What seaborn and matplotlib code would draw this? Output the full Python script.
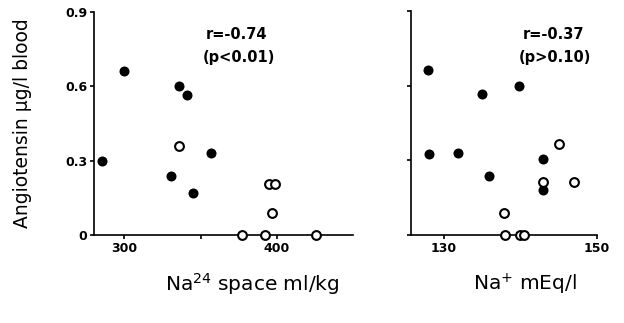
import matplotlib
matplotlib.use("Agg")
import matplotlib.pyplot as plt
import seaborn as sns

# Left panel: Na24 space (ml/kg) vs angiotensin (ug/l blood)
space_filled_x = [285.5, 299.5, 335.5, 340.8, 356.6, 330.7, 345.0]
space_filled_y = [0.30, 0.66, 0.60, 0.567, 0.33, 0.24, 0.17]
space_open_x = [335.5, 395.0, 398.7, 397.0, 377.0, 392.5, 425.6]
space_open_y = [0.36, 0.206, 0.206, 0.087, 0.0, 0.0, 0.0]

# Right panel: plasma Na+ (mEq/l) vs angiotensin
na_filled_x = [127.9, 128.0, 131.9, 135.0, 135.9, 139.8, 142.9, 142.9]
na_filled_y = [0.664, 0.327, 0.33, 0.567, 0.238, 0.60, 0.305, 0.18]
na_open_x = [137.9, 138.0, 139.9, 140.5, 145.0, 142.9, 147.0]
na_open_y = [0.09, 0.0, 0.0, 0.0, 0.365, 0.213, 0.214]

y_ticks = [0, 0.3, 0.6, 0.9]
y_ticklabels = ["0", "0.3", "0.6", "0.9"]

sns.set_theme(style="ticks", rc={"axes.edgecolor": "black", "xtick.color": "black",
                                 "ytick.color": "black", "text.color": "black",
                                 "axes.labelcolor": "black"})
plt.rcParams["font.family"] = ["DejaVu Sans"]

fig = plt.figure(figsize=(6.24, 3.23), dpi=100)
ax1 = fig.add_axes([0.1506, 0.2724, 0.4151, 0.6904])
ax2 = fig.add_axes([0.6587, 0.2724, 0.2980, 0.6935])

dot = dict(s=52, color="black", edgecolor="black", linewidth=0, clip_on=False, zorder=3)
ring = dict(s=40, color="white", edgecolor="black", linewidth=1.5, clip_on=False, zorder=3)

sns.scatterplot(x=space_filled_x, y=space_filled_y, ax=ax1, **dot)
sns.scatterplot(x=space_open_x, y=space_open_y, ax=ax1, **ring)
sns.scatterplot(x=na_filled_x, y=na_filled_y, ax=ax2, **dot)
sns.scatterplot(x=na_open_x, y=na_open_y, ax=ax2, **ring)

ax1.set_xlim(280, 450)
ax1.set_xticks([300, 350, 400])
ax1.set_xticklabels(["300", "", "400"])
ax2.set_xlim(125.7, 150)
ax2.set_xticks([130, 150])
ax2.set_xticklabels(["130", "150"])

for ax in (ax1, ax2):
    ax.set_ylim(0, 0.9)
    ax.set_yticks(y_ticks)
    sns.despine(ax=ax)
    for side in ("left", "bottom"):
        ax.spines[side].set_linewidth(1.2)
    ax.tick_params(length=3, width=1.2, pad=2, labelsize=9)
    for lab in ax.get_xticklabels() + ax.get_yticklabels():
        lab.set_fontweight("bold")

ax1.set_yticklabels(y_ticklabels)
ax2.set_yticklabels([])

ax1.set_ylabel("Angiotensin µg/l blood", fontsize=13.5, labelpad=0)
ax1.yaxis.set_label_coords(-0.24, 0.5)
txt = dict(fontsize=10.5, fontweight="bold", va="center")
ax1.text(0.43, 0.897, "r=-0.74", transform=ax1.transAxes, **txt)
ax1.text(0.42, 0.794, "(p<0.01)", transform=ax1.transAxes, **txt)
ax2.text(0.60, 0.897, "r=-0.37", transform=ax2.transAxes, **txt)
ax2.text(0.58, 0.794, "(p>0.10)", transform=ax2.transAxes, **txt)

fig.text(0.404, 0.12, "Na$^{24}$ space ml/kg", ha="center", va="center", fontsize=14.5)
fig.text(0.842, 0.12, "Na$^{+}$ mEq/l", ha="center", va="center", fontsize=14.5)

fig.savefig("out.png", dpi=100)
